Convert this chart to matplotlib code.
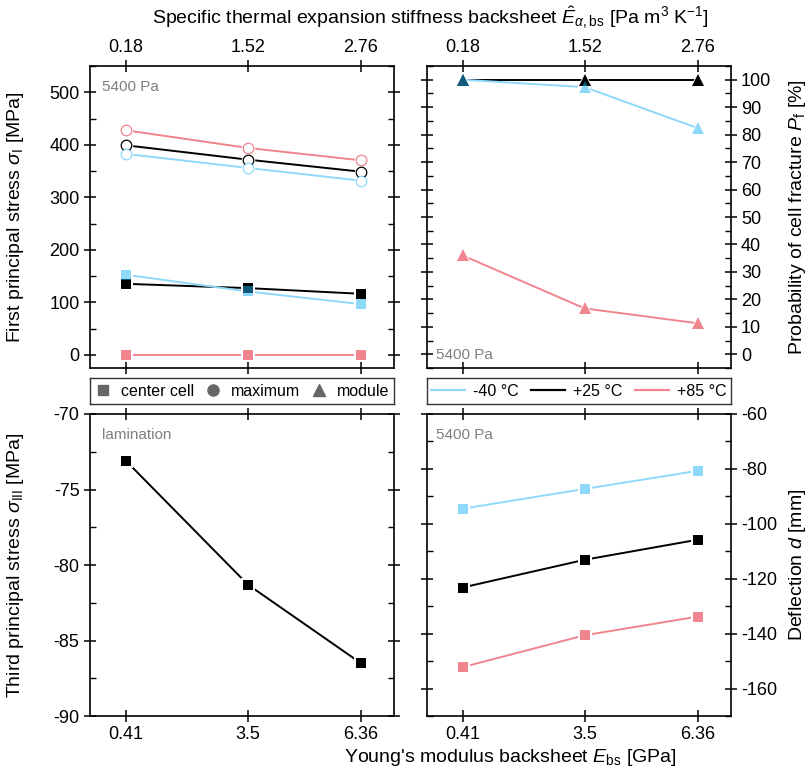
import matplotlib
matplotlib.use("Agg")
import matplotlib.pyplot as plt
from matplotlib.lines import Line2D
from matplotlib.ticker import MultipleLocator

plt.rcParams['font.family'] = ['Liberation Sans', 'DejaVu Sans']
plt.rcParams['mathtext.fontset'] = 'custom'
plt.rcParams['mathtext.rm'] = 'Liberation Sans'
plt.rcParams['mathtext.it'] = 'Liberation Sans:italic'
plt.rcParams['mathtext.bf'] = 'Liberation Sans:bold'
plt.rcParams['axes.unicode_minus'] = False

# ---------------- data ----------------
E_bs = [0.41, 3.5, 6.36]
E_bs_labels = ['0.41', '3.5', '6.36']
E_alpha_labels = ['0.18', '1.52', '2.76']
temps = ['-40 °C', '+25 °C', '+85 °C']

center_m40 = [152.5, 120.7, 96.6]
center_p25 = [135.3, 127.1, 116.3]
center_p85 = [0.0, 0.0, 0.0]

max_m40 = [382.6, 355.9, 331.7]
max_p25 = [399.0, 371.7, 348.8]
max_p85 = [427.6, 394.0, 370.4]

pf_m40 = [100.0, 97.3, 82.4]
pf_p25 = [100.0, 100.0, 100.0]
pf_p85 = [36.0, 16.7, 11.3]

sigma3_lam = [-73.1, -81.3, -86.5]

defl_m40 = [-94.5, -87.3, -80.7]
defl_p25 = [-123.2, -113.1, -105.8]
defl_p85 = [-152.2, -140.6, -133.8]

# ---------------- styles ----------------
BLUE_A = (0.12, 0.71, 0.96, 0.5)
RED_A = (0.89, 0.05, 0.13, 0.5)
BLACK = (0, 0, 0, 1)
BLUE_L = '#8FD8FA'
RED_L = '#F1848D'
GRAY_TXT = '#7f7f7f'

W, H = 810, 769
fig = plt.figure(figsize=(W / 100, H / 100), dpi=100)


def rect(x0, y0, x1, y1):
    return [x0 / W, 1 - y1 / H, (x1 - x0) / W, (y1 - y0) / H]


ax_tl = fig.add_axes(rect(90, 66, 394, 368))
ax_tr = fig.add_axes(rect(426.7, 66, 730.7, 368))
ax_bl = fig.add_axes(rect(90, 414, 394, 716))
ax_br = fig.add_axes(rect(426.7, 414, 730.7, 716))
lg_l = fig.add_axes(rect(90, 378, 394, 404))
lg_r = fig.add_axes(rect(426.7, 378, 730.7, 404))

TICK_FS = 13
LAB_FS = 14
LEG_FS = 11.5


def series(ax, y, line_col, mark_col, marker, ms, open_=False):
    ax.plot(E_bs, y, '-', color=line_col, lw=1.4, zorder=2)
    ax.plot(E_bs, y, ls='none', marker=marker, ms=ms + 2.2, mfc='white',
            mec='white', mew=0, zorder=3)
    if open_:
        ax.plot(E_bs, y, ls='none', marker=marker, ms=ms, mfc='white',
                mec=mark_col, mew=0.9, zorder=4)
    else:
        ax.plot(E_bs, y, ls='none', marker=marker, ms=ms, mfc=mark_col,
                mec='none', mew=0, zorder=4)


def style(ax, top_labels, right_axis, ymaj, ymin):
    ax.set_xlim(-0.5, 7.2)
    ax.set_xticks(E_bs)
    if top_labels:
        ax.set_xticklabels(E_alpha_labels)
    else:
        ax.set_xticklabels(E_bs_labels)
    ax.yaxis.set_major_locator(MultipleLocator(ymaj))
    ax.yaxis.set_minor_locator(MultipleLocator(ymin))
    for sp in ax.spines.values():
        sp.set_linewidth(1.2)
    ax.tick_params(axis='both', which='major', direction='inout', length=8,
                   width=1.1, labelsize=TICK_FS, top=True, bottom=True,
                   left=True, right=True)
    ax.tick_params(axis='y', which='minor', direction='in', length=4,
                   width=1.0, left=True, right=True)
    ax.tick_params(axis='x', labeltop=top_labels, labelbottom=not top_labels)
    if right_axis:
        ax.tick_params(axis='y', labelleft=False, labelright=True)
    else:
        ax.tick_params(axis='y', labelleft=True, labelright=False)


# ---- top-left: first principal stress
series(ax_tl, center_p25, 'black', BLACK, 's', 7.2)
series(ax_tl, center_m40, BLUE_L, BLUE_A, 's', 7.2)
series(ax_tl, center_p85, RED_L, RED_A, 's', 7.2)
series(ax_tl, max_p25, 'black', BLACK, 'o', 7.6, open_=True)
series(ax_tl, max_m40, BLUE_L, BLUE_A, 'o', 7.6, open_=True)
series(ax_tl, max_p85, RED_L, RED_A, 'o', 7.6, open_=True)
ax_tl.set_ylim(-25, 550)
style(ax_tl, True, False, 100, 50)
ax_tl.text(0.04, 0.955, '5400 Pa', transform=ax_tl.transAxes, color=GRAY_TXT,
           fontsize=11, ha='left', va='top')

# ---- top-right: probability of cell fracture
series(ax_tr, pf_p25, 'black', BLACK, '^', 9)
series(ax_tr, pf_m40, BLUE_L, BLUE_A, '^', 9)
series(ax_tr, pf_p85, RED_L, RED_A, '^', 9)
ax_tr.set_ylim(-5, 105)
style(ax_tr, True, True, 10, 5)
ax_tr.text(0.03, 0.02, '5400 Pa', transform=ax_tr.transAxes, color=GRAY_TXT,
           fontsize=11, ha='left', va='bottom')

# ---- bottom-left: third principal stress
series(ax_bl, sigma3_lam, 'black', BLACK, 's', 7.2)
ax_bl.set_ylim(-90, -70)
style(ax_bl, False, False, 5, 2.5)
ax_bl.text(0.04, 0.955, 'lamination', transform=ax_bl.transAxes,
           color=GRAY_TXT, fontsize=11, ha='left', va='top')

# ---- bottom-right: deflection
series(ax_br, defl_p25, 'black', BLACK, 's', 7.2)
series(ax_br, defl_m40, BLUE_L, BLUE_A, 's', 7.2)
series(ax_br, defl_p85, RED_L, RED_A, 's', 7.2)
ax_br.set_ylim(-170, -60)
style(ax_br, False, True, 20, 10)
ax_br.text(0.03, 0.955, '5400 Pa', transform=ax_br.transAxes,
           color=GRAY_TXT, fontsize=11, ha='left', va='top')

# ---- legends
for lg in (lg_l, lg_r):
    lg.set_xticks([])
    lg.set_yticks([])
    for sp in lg.spines.values():
        sp.set_linewidth(1.0)
        sp.set_color('#333333')

mk_handles = [
    Line2D([], [], ls='none', marker='s', color='#666666', ms=7),
    Line2D([], [], ls='none', marker='o', color='#666666', ms=8),
    Line2D([], [], ls='none', marker='^', color='#666666', ms=9),
]
lg_l.legend(mk_handles, ['center cell', 'maximum', 'module'], loc='center',
            ncol=3, frameon=False, fontsize=LEG_FS, handlelength=1.0,
            handletextpad=0.6, columnspacing=0.7, borderaxespad=0,
            borderpad=0)

ln_handles = [
    Line2D([], [], color=BLUE_L, lw=1.6),
    Line2D([], [], color='black', lw=1.6),
    Line2D([], [], color=RED_L, lw=1.6),
]
lg_r.legend(ln_handles, temps, loc='center', ncol=3, frameon=False,
            fontsize=LEG_FS, handlelength=2.1, handletextpad=0.5,
            columnspacing=0.8, borderaxespad=0, borderpad=0)

# ---- axis titles
fig.text(430 / W, 1 - 18 / H,
         r'Specific thermal expansion stiffness backsheet $\hat{E}_{\alpha,\mathrm{bs}}$ [Pa m$^{3}$ K$^{\mathrm{-1}}$]',
         ha='center', va='center', fontsize=LAB_FS)
fig.text(510 / W, 1 - 757 / H,
         r"Young's modulus backsheet $E_{\mathrm{bs}}$ [GPa]",
         ha='center', va='center', fontsize=LAB_FS)
fig.text(16 / W, 1 - 217 / H, r'First principal stress $\sigma_{\mathrm{I}}$ [MPa]',
         rotation=90, ha='center', va='center', fontsize=LAB_FS)
fig.text(16 / W, 1 - 565 / H, r'Third principal stress $\sigma_{\mathrm{III}}$ [MPa]',
         rotation=90, ha='center', va='center', fontsize=LAB_FS)
fig.text(797 / W, 1 - 217 / H, r'Probability of cell fracture $P_{\mathrm{f}}$ [%]',
         rotation=90, ha='center', va='center', fontsize=LAB_FS)
fig.text(797 / W, 1 - 565 / H, r'Deflection $d$ [mm]',
         rotation=90, ha='center', va='center', fontsize=LAB_FS)

fig.savefig('out.png', dpi=100)
